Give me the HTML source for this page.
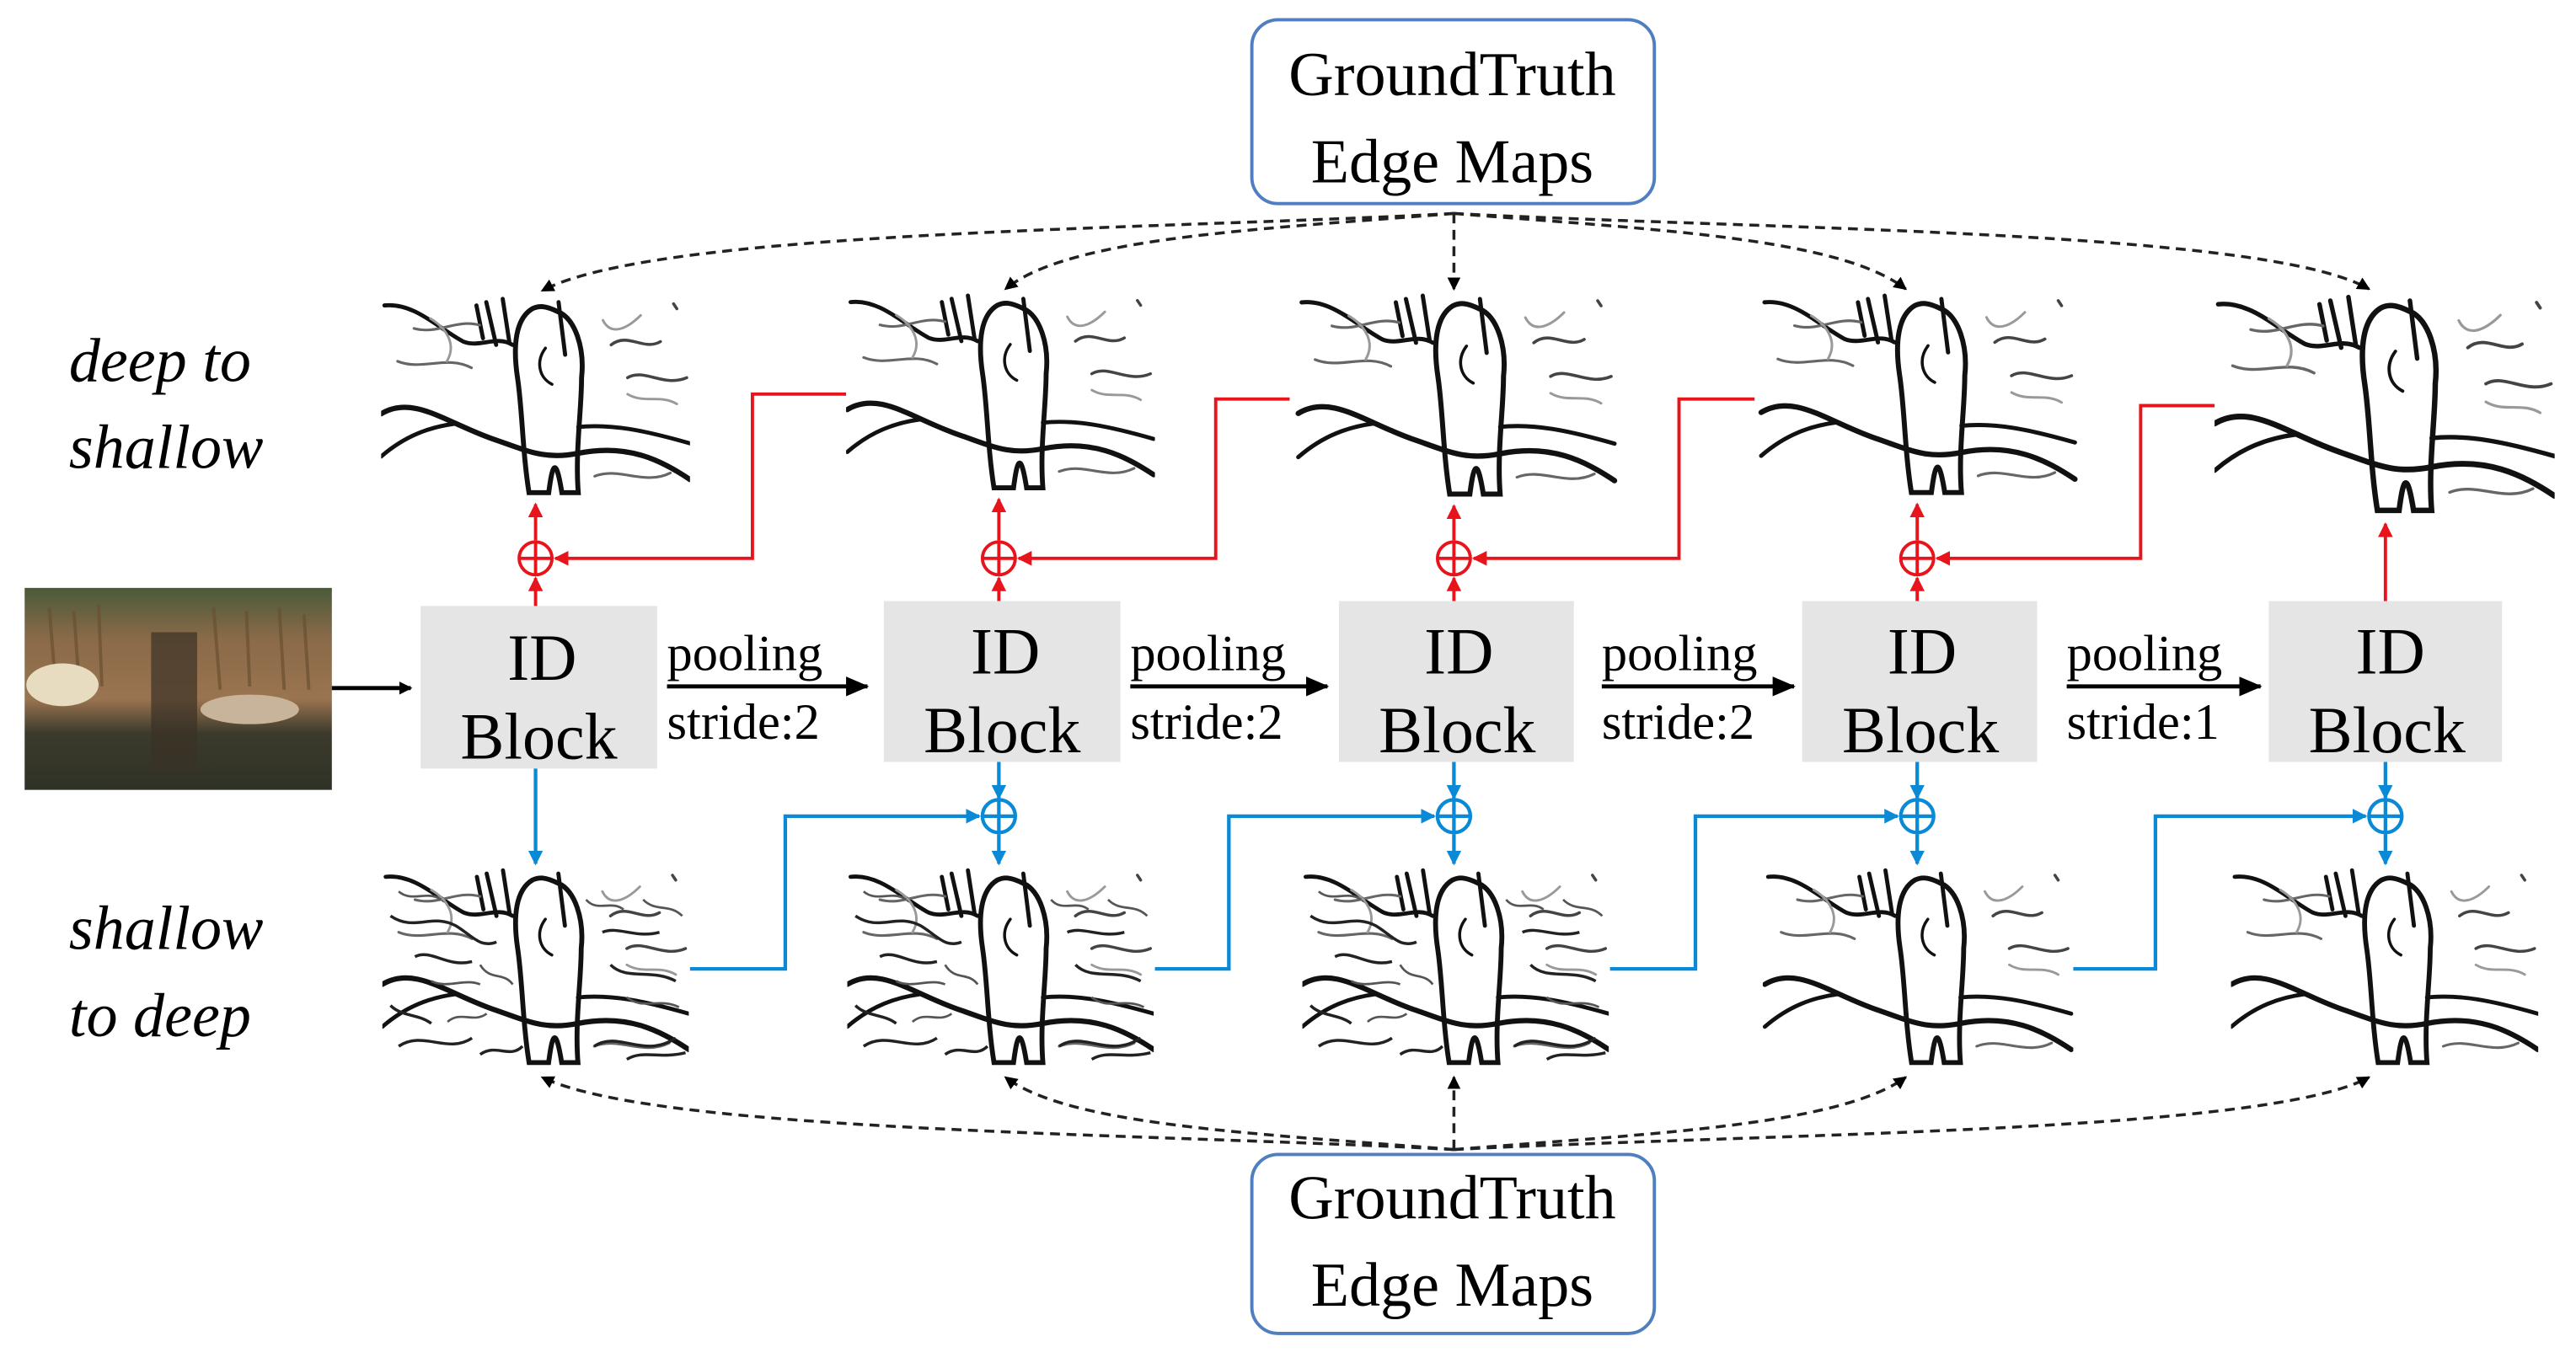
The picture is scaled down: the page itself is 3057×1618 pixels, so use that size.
<!DOCTYPE html>
<html><head><meta charset="utf-8"><style>
html,body{margin:0;padding:0;background:#fff;}
svg{display:block;}
</style></head><body>
<svg width="3057" height="1618" viewBox="0 0 1568 830" preserveAspectRatio="none" xmlns="http://www.w3.org/2000/svg">
<defs>
<marker id="ak" markerWidth="8" markerHeight="8" refX="7" refY="4" orient="auto" markerUnits="userSpaceOnUse"><path d="M0,0 L8,4 L0,8 z" fill="#000"/></marker>
<marker id="ar" markerWidth="9" markerHeight="9" refX="8" refY="4.5" orient="auto" markerUnits="userSpaceOnUse"><path d="M0,0 L9,4.5 L0,9 z" fill="#e8141c"/></marker>
<marker id="ab" markerWidth="9" markerHeight="9" refX="8" refY="4.5" orient="auto" markerUnits="userSpaceOnUse"><path d="M0,0 L9,4.5 L0,9 z" fill="#0a8ad6"/></marker>
<marker id="aB" markerWidth="14" markerHeight="12" refX="13" refY="6" orient="auto" markerUnits="userSpaceOnUse"><path d="M0,0 L14,6 L0,12 z" fill="#000"/></marker>
<symbol id="edge" viewBox="0 0 188 125">
<rect width="188" height="125" fill="#fff"/>
<g fill="none" stroke="#111" stroke-linecap="round">
<path d="M92,8 C82,14 80,30 83,50 C86,70 86,95 90,120 L102,120 C104,105 106,95 110,120 L120,120 C118,95 122,70 122,50 C124,32 118,14 108,10 C100,6 96,6 92,8 Z" stroke-width="3"/>
<path d="M0,72 C20,60 40,78 70,88 C90,95 100,100 120,96 C150,90 170,100 188,112" stroke-width="3.2"/>
<path d="M0,98 C15,85 30,80 45,78" stroke-width="2.5"/>
<path d="M120,80 C140,78 160,82 188,90" stroke-width="2.5"/>
<path d="M2,6 C20,4 35,20 50,28 C60,32 70,24 80,30" stroke-width="2.5"/>
<path d="M64,4 L70,30 M74,2 L78,28 M108,4 L112,36 M58,6 L62,26" stroke-width="2.5"/>
<path d="M100,32 C94,40 96,50 104,54" stroke-width="1.8"/>
<path d="M140,30 C150,22 160,34 170,28 M150,50 C160,44 172,56 186,50 M178,5 L180,8" stroke="#444" stroke-width="1.8"/>
<path d="M10,40 C25,46 40,36 55,44 M20,20 C35,24 45,14 60,18 M130,110 C145,104 160,116 176,108" stroke="#666" stroke-width="1.6"/>
<path d="M30,14 C40,20 46,30 40,40 M150,60 C160,66 170,60 180,66 M135,15 C140,25 150,20 158,12" stroke="#999" stroke-width="1.5"/>
</g>
</symbol>
<symbol id="edgeN" viewBox="0 0 188 125">
<use href="#edge" width="188" height="125"/>
<g fill="none" stroke="#222" stroke-width="1.8">
<path d="M5,30 C20,40 30,28 45,36 C55,42 60,50 70,46 M10,110 C25,100 40,115 55,105 M130,110 C145,100 160,118 180,105 M140,60 C150,70 165,62 180,70 M20,55 C30,50 40,62 55,58 M135,40 C145,36 155,44 170,40 M5,85 C12,92 22,90 30,96 M60,115 C70,108 78,118 86,110 M150,118 C160,112 170,118 186,114"/>
</g>
<g fill="none" stroke="#555" stroke-width="1.4">
<path d="M30,70 C40,75 50,68 60,72 M150,80 C160,88 170,80 182,86 M10,15 C18,22 28,14 36,20 M125,20 C132,28 140,20 148,26 M40,95 C48,88 56,96 64,90 M60,60 C66,70 74,64 80,72 M160,20 C168,28 176,22 184,30"/>
</g>
</symbol>
<linearGradient id="ph" x1="0" y1="0" x2="0" y2="1">
<stop offset="0" stop-color="#4a5a3a"/><stop offset="0.25" stop-color="#8a6a48"/><stop offset="0.55" stop-color="#9a7450"/><stop offset="0.72" stop-color="#3c3a2c"/><stop offset="1" stop-color="#2e3226"/>
</linearGradient>
</defs>

<g font-family="Liberation Serif, serif">
<!-- GT boxes -->
<rect x="762" y="12" width="245" height="112" rx="16" fill="#fff" stroke="#4f7fc0" stroke-width="2"/>
<text x="884" y="58" font-size="38" text-anchor="middle">GroundTruth</text>
<text x="884" y="111" font-size="38" text-anchor="middle">Edge Maps</text>
<rect x="762" y="703" width="245" height="109" rx="16" fill="#fff" stroke="#4f7fc0" stroke-width="2"/>
<text x="884" y="742" font-size="38" text-anchor="middle">GroundTruth</text>
<text x="884" y="795" font-size="38" text-anchor="middle">Edge Maps</text>

<text x="42" y="232" font-size="38" font-style="italic">deep to</text>
<text x="42" y="285" font-size="38" font-style="italic">shallow</text>
<text x="42" y="578" font-size="38" font-style="italic">shallow</text>
<text x="42" y="631" font-size="38" font-style="italic">to deep</text>
</g>

<!-- input photo -->
<rect x="15" y="358" width="187" height="123" fill="url(#ph)"/>
<g stroke="#6a5030" stroke-width="2" opacity="0.7">
<path d="M30,370 L34,420 M45,372 L48,415 M60,368 L62,418 M130,370 L134,420 M150,372 L152,418 M170,370 L173,420 M185,374 L188,420"/>
</g>
<ellipse cx="38" cy="417" rx="22" ry="13" fill="#e8dcc0"/>
<ellipse cx="152" cy="432" rx="30" ry="9" fill="#c8b49a"/>
<rect x="92" y="385" width="28" height="85" fill="#3a3226" opacity="0.7"/>
<line x1="202" y1="419" x2="250" y2="419" stroke="#000" stroke-width="2.5" marker-end="url(#ak)"/>

<use href="#edge" x="232" y="180" width="188" height="125"/>
<use href="#edge" x="515" y="178" width="188" height="124"/>
<use href="#edge" x="785" y="178" width="203" height="128"/>
<use href="#edge" x="1068" y="178" width="199" height="127"/>
<use href="#edge" x="1348" y="178" width="207" height="139"/>
<use href="#edgeN" x="232" y="528" width="188" height="124"/>
<use href="#edgeN" x="515" y="528" width="188" height="124"/>
<use href="#edgeN" x="792" y="528" width="188" height="124"/>
<use href="#edge" x="1073" y="528" width="189" height="124"/>
<use href="#edge" x="1358" y="528" width="187" height="124"/>

<g fill="#e5e5e5">
<rect x="256" y="369" width="144" height="99"/>
<rect x="538" y="366" width="144" height="98"/>
<rect x="815" y="366" width="143" height="98"/>
<rect x="1097" y="366" width="143" height="98"/>
<rect x="1381" y="366" width="142" height="98"/>
</g>
<g font-family="Liberation Serif, serif" font-size="40" text-anchor="middle">
<text x="330" y="414">ID</text><text x="328" y="462">Block</text>
<text x="612" y="410">ID</text><text x="610" y="458">Block</text>
<text x="888" y="410">ID</text><text x="887" y="458">Block</text>
<text x="1170" y="410">ID</text><text x="1169" y="458">Block</text>
<text x="1455" y="410">ID</text><text x="1453" y="458">Block</text>
</g>
<g font-family="Liberation Serif, serif" font-size="31">
<text x="406" y="408">pooling</text><text x="406" y="450">stride:2</text>
<text x="688" y="408">pooling</text><text x="688" y="450">stride:2</text>
<text x="975" y="408">pooling</text><text x="975" y="450">stride:2</text>
<text x="1258" y="408">pooling</text><text x="1258" y="450">stride:1</text>
</g>
<g stroke="#000" stroke-width="2.5">
<line x1="406" y1="418" x2="528" y2="418" marker-end="url(#aB)"/>
<line x1="688" y1="418" x2="808" y2="418" marker-end="url(#aB)"/>
<line x1="975" y1="418" x2="1092" y2="418" marker-end="url(#aB)"/>
<line x1="1258" y1="418" x2="1376" y2="418" marker-end="url(#aB)"/>
</g>

<g stroke="#e8141c" stroke-width="2" fill="none">
<line x1="326" y1="369" x2="326" y2="352" marker-end="url(#ar)"/>
<line x1="326" y1="329" x2="326" y2="307" marker-end="url(#ar)"/>
<circle cx="326" cy="340" r="10"/><path d="M316,340 H336 M326,330 V350"/>
<polyline points="515,240 458,240 458,340 338,340" marker-end="url(#ar)"/>
<line x1="608" y1="366" x2="608" y2="352" marker-end="url(#ar)"/>
<line x1="608" y1="329" x2="608" y2="304" marker-end="url(#ar)"/>
<circle cx="608" cy="340" r="10"/><path d="M598,340 H618 M608,330 V350"/>
<polyline points="785,243 740,243 740,340 620,340" marker-end="url(#ar)"/>
<line x1="885" y1="366" x2="885" y2="352" marker-end="url(#ar)"/>
<line x1="885" y1="329" x2="885" y2="308" marker-end="url(#ar)"/>
<circle cx="885" cy="340" r="10"/><path d="M875,340 H895 M885,330 V350"/>
<polyline points="1068,243 1022,243 1022,340 897,340" marker-end="url(#ar)"/>
<line x1="1167" y1="366" x2="1167" y2="352" marker-end="url(#ar)"/>
<line x1="1167" y1="329" x2="1167" y2="307" marker-end="url(#ar)"/>
<circle cx="1167" cy="340" r="10"/><path d="M1157,340 H1177 M1167,330 V350"/>
<polyline points="1348,247 1303,247 1303,340 1179,340" marker-end="url(#ar)"/>
<line x1="1452" y1="366" x2="1452" y2="319" marker-end="url(#ar)"/>
</g>

<g stroke="#0a8ad6" stroke-width="2.2" fill="none">
<line x1="326" y1="468" x2="326" y2="526" marker-end="url(#ab)"/>
<polyline points="420,590 478,590 478,497 596,497" marker-end="url(#ab)"/>
<polyline points="703,590 748,590 748,497 873,497" marker-end="url(#ab)"/>
<polyline points="980,590 1032,590 1032,497 1155,497" marker-end="url(#ab)"/>
<polyline points="1262,590 1312,590 1312,497 1440,497" marker-end="url(#ab)"/>
<line x1="608" y1="464" x2="608" y2="486" marker-end="url(#ab)"/><line x1="608" y1="508" x2="608" y2="526" marker-end="url(#ab)"/>
<circle cx="608" cy="497" r="10"/><path d="M598,497 H618 M608,487 V507"/>
<line x1="885" y1="464" x2="885" y2="486" marker-end="url(#ab)"/><line x1="885" y1="508" x2="885" y2="526" marker-end="url(#ab)"/>
<circle cx="885" cy="497" r="10"/><path d="M875,497 H895 M885,487 V507"/>
<line x1="1167" y1="464" x2="1167" y2="486" marker-end="url(#ab)"/><line x1="1167" y1="508" x2="1167" y2="526" marker-end="url(#ab)"/>
<circle cx="1167" cy="497" r="10"/><path d="M1157,497 H1177 M1167,487 V507"/>
<line x1="1452" y1="464" x2="1452" y2="486" marker-end="url(#ab)"/><line x1="1452" y1="508" x2="1452" y2="526" marker-end="url(#ab)"/>
<circle cx="1452" cy="497" r="10"/><path d="M1442,497 H1462 M1452,487 V507"/>
</g>

<g stroke="#222" stroke-width="1.8" fill="none" stroke-dasharray="6,4">
<path d="M885,130 C700,140 400,140 330,177" marker-end="url(#ak)"/>
<path d="M885,130 C760,140 650,145 612,176" marker-end="url(#ak)"/>
<line x1="885" y1="130" x2="885" y2="176" marker-end="url(#ak)"/>
<path d="M885,130 C1010,140 1120,145 1160,176" marker-end="url(#ak)"/>
<path d="M885,130 C1080,140 1380,140 1442,176" marker-end="url(#ak)"/>
<path d="M885,700 C700,690 400,690 330,656" marker-end="url(#ak)"/>
<path d="M885,700 C760,690 650,685 612,656" marker-end="url(#ak)"/>
<line x1="885" y1="700" x2="885" y2="656" marker-end="url(#ak)"/>
<path d="M885,700 C1010,690 1120,685 1160,656" marker-end="url(#ak)"/>
<path d="M885,700 C1080,690 1380,690 1442,656" marker-end="url(#ak)"/>
</g>
</svg>
</body></html>
